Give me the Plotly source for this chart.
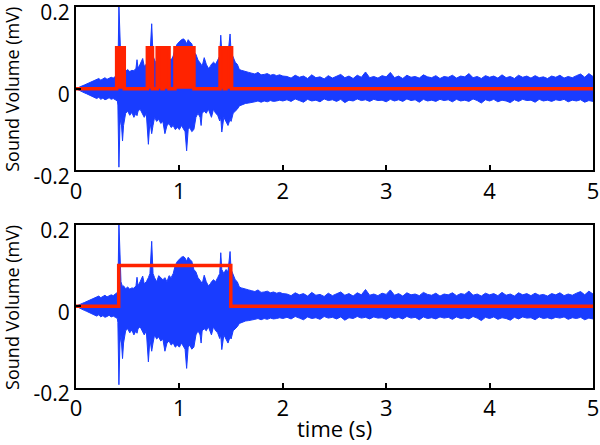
import plotly.graph_objects as go
from plotly.subplots import make_subplots

# ---- waveform envelope (time s, upper / lower in mV) ----
t_active = [0.00, 0.02, 0.04, 0.06, 0.08, 0.10, 0.12, 0.14, 0.16, 0.18, 0.20, 0.22, 0.24, 0.26, 0.28,
            0.30, 0.32, 0.34, 0.36, 0.38, 0.40, 0.405, 0.415, 0.425, 0.435, 0.45, 0.46, 0.48, 0.50, 0.52,
            0.54, 0.56, 0.58, 0.59, 0.60, 0.62, 0.645, 0.66, 0.68, 0.70, 0.715, 0.732, 0.745, 0.76, 0.78,
            0.80, 0.82, 0.84, 0.86, 0.88, 0.90, 0.92, 0.94, 0.96, 0.98, 1.00, 1.02, 1.04, 1.055, 1.07,
            1.085, 1.10, 1.12, 1.14, 1.16, 1.18, 1.20, 1.21, 1.22, 1.24, 1.26, 1.28, 1.30, 1.31, 1.33,
            1.35, 1.37, 1.39, 1.40, 1.41, 1.43, 1.45, 1.47, 1.49, 1.50, 1.52, 1.54, 1.56, 1.58, 1.60,
            1.62, 1.64, 1.67, 1.70, 1.73, 1.76, 1.79, 1.82, 1.85, 1.88, 1.91, 1.94, 1.97, 2.00]
up_active = [0.000, 0.003, 0.005, 0.007, 0.009, 0.011, 0.013, 0.016, 0.018, 0.020, 0.022, 0.025, 0.021, 0.024, 0.027,
             0.023, 0.025, 0.028, 0.026, 0.030, 0.032, 0.035, 0.205, 0.100, 0.060, 0.048, 0.050, 0.043, 0.047, 0.042,
             0.045, 0.044, 0.050, 0.071, 0.050, 0.060, 0.074, 0.055, 0.060, 0.070, 0.080, 0.159, 0.080, 0.070, 0.060,
             0.075, 0.070, 0.065, 0.070, 0.060, 0.075, 0.070, 0.080, 0.100, 0.110, 0.115, 0.120, 0.122, 0.118, 0.110,
             0.120, 0.115, 0.110, 0.090, 0.084, 0.070, 0.065, 0.060, 0.055, 0.076, 0.060, 0.050, 0.055, 0.060, 0.065,
             0.060, 0.070, 0.080, 0.131, 0.090, 0.080, 0.090, 0.085, 0.134, 0.090, 0.075, 0.065, 0.060, 0.047, 0.045,
             0.043, 0.042, 0.040, 0.038, 0.036, 0.040, 0.034, 0.035, 0.037, 0.033, 0.035, 0.032, 0.034, 0.031]
lo_active = [0.000, -0.003, -0.005, -0.007, -0.010, -0.012, -0.014, -0.017, -0.019, -0.022, -0.024, -0.021, -0.026, -0.023, -0.027,
             -0.025, -0.022, -0.026, -0.024, -0.027, -0.030, -0.040, -0.192, -0.090, -0.070, -0.128, -0.090, -0.060, -0.055, -0.065,
             -0.058, -0.070, -0.060, -0.066, -0.055, -0.050, -0.065, -0.070, -0.060, -0.136, -0.080, -0.110, -0.090, -0.070, -0.080,
             -0.075, -0.085, -0.080, -0.110, -0.090, -0.085, -0.095, -0.090, -0.100, -0.095, -0.100, -0.090, -0.100, -0.105, -0.152,
             -0.100, -0.095, -0.105, -0.100, -0.070, -0.060, -0.070, -0.090, -0.060, -0.055, -0.060, -0.050, -0.065, -0.070, -0.050,
             -0.060, -0.065, -0.079, -0.070, -0.106, -0.070, -0.080, -0.090, -0.075, -0.080, -0.060, -0.055, -0.050, -0.042, -0.040,
             -0.038, -0.036, -0.035, -0.034, -0.032, -0.030, -0.033, -0.030, -0.032, -0.029, -0.031, -0.030, -0.028, -0.030]

t_quiet = [2.04, 2.08, 2.12, 2.16, 2.20, 2.24, 2.28, 2.32, 2.36, 2.40, 2.44, 2.48, 2.52, 2.56, 2.60,
           2.64, 2.68, 2.72, 2.76, 2.80, 2.84, 2.88, 2.92, 2.96, 3.00, 3.04, 3.08, 3.12, 3.16, 3.20,
           3.24, 3.28, 3.32, 3.36, 3.40, 3.44, 3.48, 3.52, 3.56, 3.60, 3.64, 3.68, 3.72, 3.76, 3.80,
           3.84, 3.88, 3.92, 3.96, 4.00, 4.04, 4.08, 4.12, 4.16, 4.20, 4.24, 4.28, 4.32, 4.36, 4.40,
           4.44, 4.48, 4.52, 4.56, 4.60, 4.64, 4.68, 4.72, 4.76, 4.80, 4.84, 4.88, 4.92, 4.96, 5.00]
up_quiet = [0.030, 0.026, 0.033, 0.028, 0.031, 0.025, 0.034, 0.027, 0.029, 0.024,
            0.032, 0.026, 0.030, 0.035, 0.027, 0.031, 0.025, 0.033, 0.028, 0.041,
            0.027, 0.030, 0.026, 0.032, 0.029, 0.040, 0.027, 0.031, 0.025, 0.033,
            0.028, 0.030, 0.026, 0.034, 0.029, 0.027, 0.032, 0.025, 0.030, 0.028,
            0.033, 0.026, 0.031, 0.029, 0.037, 0.027, 0.030, 0.025, 0.032, 0.028,
            0.031, 0.026, 0.034, 0.027, 0.030, 0.025, 0.033, 0.028, 0.031, 0.026,
            0.032, 0.027, 0.029, 0.025, 0.031, 0.028, 0.033, 0.026, 0.030, 0.027,
            0.032, 0.036, 0.028, 0.037, 0.030]
lo_quiet = [-0.027, -0.031, -0.025, -0.029, -0.033, -0.026, -0.030, -0.028, -0.032, -0.025,
            -0.029, -0.027, -0.031, -0.026, -0.034, -0.028, -0.030, -0.025, -0.029, -0.027,
            -0.031, -0.026, -0.029, -0.028, -0.032, -0.026, -0.030, -0.027, -0.031, -0.025,
            -0.029, -0.027, -0.033, -0.026, -0.030, -0.028, -0.031, -0.026, -0.029, -0.027,
            -0.032, -0.026, -0.030, -0.028, -0.031, -0.025, -0.029, -0.035, -0.027, -0.030,
            -0.026, -0.032, -0.028, -0.030, -0.034, -0.027, -0.031, -0.026, -0.029, -0.028,
            -0.033, -0.026, -0.030, -0.028, -0.031, -0.027, -0.029, -0.026, -0.032, -0.028,
            -0.030, -0.027, -0.033, -0.029, -0.031]

# ---- red detection signals ----
det_starts = [0.393, 0.690, 0.785, 0.845, 0.957, 1.393, 1.450]
det_ends = [0.467, 0.740, 0.832, 0.900, 1.141, 1.435, 1.505]
det_level = 0.1
seg_start = 0.413
seg_end = 1.497
t_range = [0, 5]

x_ticks = [0, 1, 2, 3, 4, 5]
y_ticks = [-0.2, 0, 0.2]
y_ticktext = ["-0.2", "0", "0.2"]
y_title = "Sound Volume (mV)"
x_title = "time (s)"

BLUE = "rgb(25,60,255)"
RED = "rgb(255,35,0)"
FONT = "Open Sans, sans-serif"

t_all = t_active + t_quiet
up_all = up_active + up_quiet
lo_all = lo_active + lo_quiet

# step trace for top detection
dx, dy = [t_range[0]], [0]
for s, e in zip(det_starts, det_ends):
    dx += [s, s, e, e]
    dy += [0, det_level, det_level, 0]
dx.append(t_range[1]); dy.append(0)

bx = [t_range[0], seg_start, seg_start, seg_end, seg_end, t_range[1]]
by = [0, 0, det_level, det_level, 0, 0]

fig = make_subplots(rows=2, cols=1, vertical_spacing=0.142)
for r in (1, 2):
    fig.add_trace(go.Scatter(x=t_all, y=up_all, mode="lines",
                             line=dict(color=BLUE, width=1), showlegend=False), row=r, col=1)
    fig.add_trace(go.Scatter(x=t_all, y=lo_all, mode="lines", fill="tonexty",
                             fillcolor=BLUE, line=dict(color=BLUE, width=1), showlegend=False), row=r, col=1)

fig.add_trace(go.Scatter(x=dx, y=dy, mode="lines", fill="tozeroy", fillcolor=RED,
                         line=dict(color=RED, width=3.5), showlegend=False), row=1, col=1)
fig.add_trace(go.Scatter(x=bx, y=by, mode="lines",
                         line=dict(color=RED, width=3.5), showlegend=False), row=2, col=1)

for r in (1, 2):
    fig.update_xaxes(range=t_range, tickvals=x_ticks, ticks="inside", ticklen=5, tickwidth=2,
                     tickcolor="black", showline=True, linecolor="black", linewidth=2, mirror=True,
                     showgrid=False, zeroline=False, tickfont=dict(family=FONT, size=22, color="black"),
                     automargin=False, ticklabeloverflow="allow", row=r, col=1)
    fig.update_yaxes(range=[-0.2, 0.2], tickvals=y_ticks, ticktext=y_ticktext, ticks="inside",
                     ticklen=5, tickwidth=2, tickcolor="black", showline=True, linecolor="black",
                     linewidth=2, mirror=True, showgrid=False, zeroline=False,
                     tickfont=dict(family=FONT, size=21, color="black"),
                     automargin=False, ticklabelshift=6, ticklabeloverflow="allow", row=r, col=1)

ann = dict(showarrow=False, xref="paper", yref="paper", font=dict(family=FONT, size=18, color="black"))
fig.add_annotation(text=y_title, x=-0.124, y=0.785, textangle=-90, xanchor="center", yanchor="middle", **ann)
fig.add_annotation(text=y_title, x=-0.124, y=0.2126, textangle=-90, xanchor="center", yanchor="middle", **ann)
fig.add_annotation(text=x_title, x=0.5, y=-0.105, xanchor="center", yanchor="middle",
                   showarrow=False, xref="paper", yref="paper",
                   font=dict(family=FONT, size=22, color="black"))

fig.update_layout(width=600, height=445, margin=dict(l=76, r=7, t=7, b=57),
                  plot_bgcolor="white", paper_bgcolor="white")
fig.write_html("out.html", config={"displayModeBar": False},
               post_script="document.body.style.margin='0';document.body.style.overflow='hidden';")
